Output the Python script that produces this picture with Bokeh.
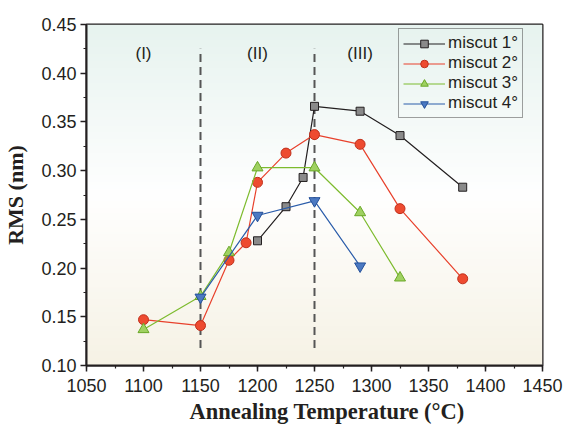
import numpy as np
from bokeh.plotting import figure
from bokeh.models import Range1d, SingleIntervalTicker, NumeralTickFormatter, Label, Legend, Title
from bokeh.embed import file_html
from bokeh.resources import INLINE

# data
m1_x = [1200, 1225, 1240, 1250, 1290, 1325, 1380]
m1_y = [0.228, 0.263, 0.293, 0.366, 0.361, 0.336, 0.283]
m2_x = [1100, 1150, 1175, 1190, 1200, 1225, 1250, 1290, 1325, 1380]
m2_y = [0.147, 0.141, 0.208, 0.226, 0.288, 0.318, 0.337, 0.327, 0.261, 0.189]
m3_x = [1100, 1150, 1175, 1200, 1250, 1290, 1325]
m3_y = [0.137, 0.171, 0.216, 0.303, 0.303, 0.257, 0.190]
m4_x = [1150, 1200, 1250, 1290]
m4_y = [0.170, 0.254, 0.269, 0.202]
region_x = [1100, 1200, 1290]
region_labels = ["(I)", "(II)", "(III)"]
boundaries = [1150, 1250]

X0, X1, Y0, Y1 = 1050, 1450, 0.10, 0.45

p = figure(width=564, height=426, output_backend="svg", toolbar_location=None,
           x_range=Range1d(X0, X1), y_range=Range1d(Y0, Y1),
           min_border_left=85, min_border_right=22, min_border_top=24, min_border_bottom=61)

# gradient background
n = 200
t = np.linspace(0, 1, n)  # 0 bottom -> 1 top
bottom = np.array([246, 242, 229], dtype=float)
white = np.array([255, 255, 255], dtype=float)
top = np.array([231, 243, 239], dtype=float)
cols = np.empty((n, 3))
for i, tv in enumerate(t):
    if tv < 0.5:
        cols[i] = bottom + (white - bottom) * (tv / 0.5)
    else:
        cols[i] = white + (top - white) * ((tv - 0.5) / 0.5)
img = np.zeros((n, 1), dtype=np.uint32)
view = img.view(dtype=np.uint8).reshape((n, 1, 4))
view[:, 0, 0] = cols[:, 0].astype(np.uint8)
view[:, 0, 1] = cols[:, 1].astype(np.uint8)
view[:, 0, 2] = cols[:, 2].astype(np.uint8)
view[:, 0, 3] = 255
p.image_rgba(image=[img], x=X0, y=Y0, dw=X1 - X0, dh=Y1 - Y0)

p.grid.visible = False
p.outline_line_color = "#231f20"
p.outline_line_width = 2
p.background_fill_color = "white"
p.border_fill_color = "white"

for ax in (p.xaxis[0], p.yaxis[0]):
    ax.axis_line_color = "#231f20"
    ax.axis_line_width = 2
    ax.major_tick_line_color = "#231f20"
    ax.minor_tick_line_color = "#231f20"
    ax.major_tick_line_width = 1.5
    ax.minor_tick_line_width = 1.2
    ax.major_tick_out = 6
    ax.major_tick_in = 0
    ax.minor_tick_out = 3
    ax.minor_tick_in = 0
    ax.major_label_text_font = "Liberation Sans"
    ax.major_label_text_font_size = "18px"
    ax.major_label_text_color = "#231f20"
    ax.axis_label_text_font = "Liberation Serif"
    ax.axis_label_text_font_style = "bold"
    ax.axis_label_text_font_size = "22px"
    ax.axis_label_text_color = "#231f20"

p.xaxis.ticker = SingleIntervalTicker(interval=50, num_minor_ticks=2)
p.yaxis.ticker = SingleIntervalTicker(interval=0.05, num_minor_ticks=2)
p.yaxis.formatter = NumeralTickFormatter(format="0.00")
p.yaxis.axis_label = "RMS (nm)"
p.xaxis.major_label_standoff = 7
p.yaxis.major_label_standoff = 4
p.yaxis.axis_label_standoff = 10

xt = Title(text="Annealing Temperature (°C)", align="left", offset=103,
           text_font="Liberation Serif", text_font_style="bold", text_font_size="22.5px",
           text_color="#231f20", standoff=4)
p.add_layout(xt, "below")

for b in boundaries:
    p.segment(x0=[b], y0=[0.118], x1=[b], y1=[0.425], line_color="#555555",
              line_width=2, line_dash="8 5")

for xv, lab in zip(region_x, region_labels):
    p.add_layout(Label(x=xv, y=0.4205, text=lab, text_align="center", text_baseline="middle",
                       text_font="Liberation Sans", text_font_size="17px", text_color="#231f20"))

items = []
series = [
    (m1_x, m1_y, "#231f20", "square", "#8a8a8a", "#231f20", 8, "miscut 1°"),
    (m2_x, m2_y, "#e8412c", "circle", "#ee4b30", "#c0301c", 10, "miscut 2°"),
    (m3_x, m3_y, "#7dbb2e", "triangle", "#9fd161", "#6aa828", 11, "miscut 3°"),
    (m4_x, m4_y, "#2a5caa", "inverted_triangle", "#4b79c2", "#24509a", 11, "miscut 4°"),
]
for xs, ys, lc, mk, fc, oc, sz, name in series:
    r1 = p.line(xs, ys, line_color=lc, line_width=1.2)
    r2 = p.scatter(xs, ys, marker=mk, size=sz, fill_color=fc, line_color=oc, line_width=1)
    items.append((name, [r1, r2]))

legend = Legend(items=items, location=(312, 247))
legend.label_text_font = "Liberation Sans"
legend.label_text_font_size = "17px"
legend.label_text_color = "#231f20"
legend.label_height = 19
legend.glyph_height = 19
legend.glyph_width = 42
legend.spacing = 0
legend.padding = 4
legend.margin = 0
legend.label_standoff = 3
legend.border_line_color = "#444444"
legend.border_line_width = 1.5
legend.background_fill_alpha = 0.0
p.add_layout(legend, "center")

open("out.html", "w").write(file_html(p, INLINE))
